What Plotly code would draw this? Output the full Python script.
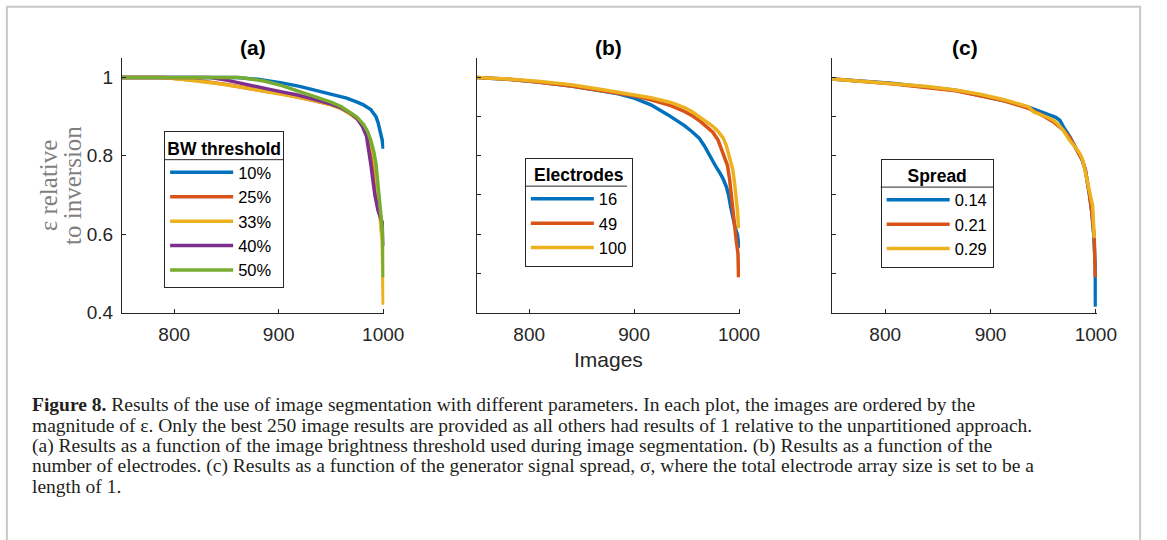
import plotly.graph_objects as go

W, H = 1167, 540

BLUE, RED, YELLOW, PURPLE, GREEN = "#0072BD", "#D95319", "#EDB120", "#7E2F8E", "#77AC30"

# ---------------- data: panel (a) BW threshold ----------------
a_labels = ["10%", "25%", "33%", "40%", "50%"]
a10_x = [750, 860, 880, 903, 920, 934, 950, 965, 975, 981, 988, 993, 995, 997, 999, 1000]
a10_y = [1.0, 1.0, 0.995, 0.986, 0.977, 0.968, 0.958, 0.947, 0.937, 0.93, 0.918, 0.90, 0.885, 0.865, 0.84, 0.818]
a25_x = [750, 790, 820, 850, 880, 903, 930, 950, 960, 968, 975, 981, 985, 988, 991, 993, 995, 998, 1000]
a25_y = [1.0, 1.0, 0.993, 0.982, 0.968, 0.958, 0.943, 0.931, 0.921, 0.909, 0.894, 0.875, 0.855, 0.82, 0.77, 0.72, 0.68, 0.64, 0.57]
a33_x = [750, 784, 800, 820, 840, 860, 887, 903, 918, 934, 950, 960, 968, 975, 981, 985, 988, 991, 993, 995, 997, 999, 1000]
a33_y = [1.0, 1.0, 0.997, 0.992, 0.985, 0.977, 0.965, 0.958, 0.95, 0.941, 0.93, 0.92, 0.908, 0.895, 0.878, 0.86, 0.835, 0.80, 0.76, 0.70, 0.65, 0.58, 0.42]
a40_x = [750, 833, 850, 871, 887, 903, 918, 934, 950, 960, 968, 975, 980, 984, 986, 988, 990, 992, 995, 997, 999, 1000]
a40_y = [1.0, 1.0, 0.993, 0.98, 0.972, 0.963, 0.955, 0.944, 0.932, 0.922, 0.91, 0.895, 0.875, 0.85, 0.82, 0.78, 0.74, 0.70, 0.66, 0.645, 0.63, 0.57]
a50_x = [750, 862, 875, 887, 903, 918, 935, 950, 960, 968, 975, 981, 985, 988, 991, 993, 995, 997, 998.5, 999.5, 1000]
a50_y = [1.0, 1.0, 0.995, 0.99, 0.979, 0.966, 0.952, 0.937, 0.925, 0.912, 0.898, 0.88, 0.862, 0.84, 0.81, 0.78, 0.72, 0.67, 0.64, 0.60, 0.49]

# ---------------- data: panel (b) Electrodes ----------------
b_labels = ["16", "49", "100"]
b16_x = [750, 780, 808, 840, 864, 885, 900, 916, 932, 940, 948, 955, 962, 967, 972, 978, 982, 985, 988, 990, 992, 994, 996, 998.5, 1000]
b16_y = [1.0, 0.995, 0.988, 0.978, 0.968, 0.958, 0.947, 0.93, 0.905, 0.892, 0.877, 0.862, 0.845, 0.825, 0.80, 0.772, 0.755, 0.74, 0.72, 0.70, 0.67, 0.64, 0.62, 0.598, 0.565]
b49_x = [750, 780, 808, 840, 869, 900, 916, 935, 948, 955, 962, 969, 975, 980, 983, 986, 989, 991, 992.5, 994, 995.5, 997.5, 999, 999.5]
b49_y = [1.0, 0.995, 0.988, 0.978, 0.966, 0.953, 0.943, 0.928, 0.913, 0.903, 0.89, 0.875, 0.86, 0.84, 0.82, 0.80, 0.775, 0.74, 0.70, 0.66, 0.62, 0.58, 0.55, 0.49]
b100_x = [750, 780, 808, 840, 869, 890, 916, 935, 948, 955, 962, 969, 975, 980, 985, 988, 990.5, 992.5, 994, 995.5, 997, 998.5, 999.5]
b100_y = [1.0, 0.996, 0.99, 0.981, 0.969, 0.96, 0.948, 0.936, 0.923, 0.913, 0.90, 0.888, 0.875, 0.862, 0.845, 0.825, 0.80, 0.785, 0.765, 0.735, 0.70, 0.66, 0.615]

# ---------------- data: panel (c) Spread ----------------
c_labels = ["0.14", "0.21", "0.29"]
c14_x = [750, 806, 867, 913, 936, 948, 955, 962, 966, 970, 975, 981, 987, 990, 992, 994, 996, 998, 999.5, 999.6]
c14_y = [0.996, 0.985, 0.967, 0.94, 0.924, 0.912, 0.905, 0.898, 0.89, 0.87, 0.85, 0.822, 0.79, 0.765, 0.735, 0.70, 0.66, 0.60, 0.52, 0.415]
c21_x = [750, 806, 867, 913, 936, 948, 960, 969, 975, 981, 987, 990, 992, 994, 996, 997.5, 998.5, 999.5]
c21_y = [0.996, 0.984, 0.966, 0.94, 0.921, 0.905, 0.886, 0.866, 0.848, 0.82, 0.79, 0.765, 0.735, 0.70, 0.66, 0.62, 0.59, 0.49]
c29_x = [750, 780, 806, 840, 867, 890, 913, 930, 936, 941, 948, 955, 960, 965, 969, 975, 981, 985, 987.5, 990, 991.5, 994, 996, 997, 998.5]
c29_y = [0.996, 0.99, 0.985, 0.977, 0.968, 0.957, 0.943, 0.93, 0.925, 0.912, 0.905, 0.897, 0.89, 0.878, 0.865, 0.84, 0.82, 0.805, 0.79, 0.76, 0.74, 0.705, 0.69, 0.672, 0.59]

x_ticks = [800, 900, 1000]
ya_ticks = [0.4, 0.6, 0.8, 1.0]
ya_ticktext = ["0.4", "0.6", "0.8", "1"]
ybc_ticks = [0.4, 0.5, 0.6, 0.7, 0.8, 0.9, 1.0]

panel_titles = ["(a)", "(b)", "(c)"]
legend_titles = ["BW threshold", "Electrodes", "Spread"]
y_title_lines = ["ε relative", "to inversion"]
x_title = "Images"
caption_lines = [
    "<b>Figure 8.</b> Results of the use of image segmentation with different parameters. In each plot, the images are ordered by the",
    "magnitude of ε. Only the best 250 image results are provided as all others had results of 1 relative to the unpartitioned approach.",
    "(a) Results as a function of the image brightness threshold used during image segmentation. (b) Results as a function of the",
    "number of electrodes. (c) Results as a function of the generator signal spread, σ, where the total electrode array size is set to be a",
    "length of 1.",
]

SANS = "Liberation Sans, Arial, sans-serif"
SERIF = "Liberation Serif, Times New Roman, serif"
AX = "#262626"
LW = 3.5

fig = go.Figure()

panels = [
    ("x", "y", "legend", [(a10_x, a10_y, BLUE), (a25_x, a25_y, RED), (a33_x, a33_y, YELLOW),
                          (a40_x, a40_y, PURPLE), (a50_x, a50_y, GREEN)], a_labels),
    ("x2", "y2", "legend2", [(b16_x, b16_y, BLUE), (b49_x, b49_y, RED), (b100_x, b100_y, YELLOW)], b_labels),
    ("x3", "y3", "legend3", [(c14_x, c14_y, BLUE), (c21_x, c21_y, RED), (c29_x, c29_y, YELLOW)], c_labels),
]
for xa, ya, lg, series, labels in panels:
    for (xs, ys, col), lab in zip(series, labels):
        fig.add_trace(go.Scatter(x=xs, y=ys, mode="lines", name=lab, xaxis=xa, yaxis=ya,
                                 legend=lg, line=dict(color=col, width=LW)))

xdoms = [(124, 391), (485, 753), (847, 1116)]
ydom = [1 - 319 / H, 1 - 59 / H]

common_x = dict(range=[750, 1001], tickvals=x_ticks, ticks="inside", ticklen=4, tickcolor=AX,
                showline=True, linecolor=AX, linewidth=1, showgrid=False, zeroline=False,
                tickfont=dict(family=SANS, size=19, color=AX), ticklabelstandoff=5, fixedrange=True)
common_y = dict(range=[0.4, 1.05], ticks="inside", ticklen=4, tickcolor=AX,
                showline=True, linecolor=AX, linewidth=1, showgrid=False, zeroline=False,
                tickfont=dict(family=SANS, size=19, color=AX), fixedrange=True)

layout = dict(width=W, height=H, margin=dict(l=0, r=0, t=0, b=0),
              paper_bgcolor="white", plot_bgcolor="white", showlegend=True)
for i, (x0, x1) in enumerate(xdoms):
    sfx = "" if i == 0 else str(i + 1)
    layout["xaxis" + sfx] = dict(common_x, domain=[x0 / W, x1 / W], anchor="y" + sfx)
    ydict = dict(common_y, domain=ydom, anchor="x" + sfx)
    if i == 0:
        ydict.update(tickvals=ya_ticks, ticktext=ya_ticktext, showticklabels=True, ticklabelstandoff=4)
    else:
        ydict.update(tickvals=ybc_ticks, showticklabels=False)
    layout["yaxis" + sfx] = ydict

# legend boxes: left, top, right (px) ; separator drawn under the title
legend_box = [(167, 134, 288), (534, 161, 638), (896, 162, 1011)]
for i, ((lx, ly, rx), lt) in enumerate(zip(legend_box, legend_titles)):
    key = "legend" if i == 0 else "legend" + str(i + 1)
    layout[key] = dict(x=lx / W, y=1 - ly / H, xanchor="left", yanchor="top",
                       bgcolor="rgba(255,255,255,0)", bordercolor=AX, borderwidth=1,
                       font=dict(family=SANS, size=16.5, color="#000"),
                       itemwidth=63,
                       title=dict(text=lt, side="top center",
                                  font=dict(family=SANS, size=17.5, color="#000", weight="bold")),
                       tracegroupgap=0, itemclick=False, itemdoubleclick=False)

fig.update_layout(**layout)

for lx, ly, rx in legend_box:
    fig.add_shape(type="line", xref="paper", yref="paper", x0=lx / W, x1=rx / W,
                  y0=1 - (ly + 29) / H, y1=1 - (ly + 29) / H, line=dict(color=AX, width=1))

annotations = []
centers = [(x0 + x1) / 2 for x0, x1 in xdoms]
for cx, t in zip(centers, panel_titles):
    annotations.append(dict(text=t, x=cx / W, y=1 - 48 / H, xref="paper", yref="paper",
                            xanchor="center", yanchor="middle", showarrow=False,
                            font=dict(family=SANS, size=21, color="#000", weight="bold")))
annotations.append(dict(text=x_title, x=centers[1] / W, y=1 - 367 / H, xref="paper", yref="paper",
                        xanchor="center", yanchor="middle", showarrow=False,
                        font=dict(family=SANS, size=21, color=AX)))
for t, xx in zip(y_title_lines, [49, 73]):
    annotations.append(dict(text=t, x=xx / W, y=1 - 189 / H, xref="paper", yref="paper",
                            xanchor="center", yanchor="middle", showarrow=False, textangle=-90,
                            font=dict(family=SERIF, size=25, color="#7f7f7f")))
cap_y = [413, 434, 455, 476, 497]
for t, yy in zip(caption_lines, cap_y):
    annotations.append(dict(text=t, x=31 / W, y=1 - yy / H, xref="paper", yref="paper",
                            xanchor="left", yanchor="middle", showarrow=False, align="left",
                            font=dict(family=SERIF, size=19.5, color="#231f20")))
fig.update_layout(annotations=annotations)

fig.add_shape(type="rect", xref="paper", yref="paper", x0=7 / W, x1=1160 / W, y0=-0.1, y1=1 - 7 / H,
              line=dict(color="#c8c8c8", width=2), fillcolor="rgba(0,0,0,0)", layer="below")

fig.write_html("out.html")
